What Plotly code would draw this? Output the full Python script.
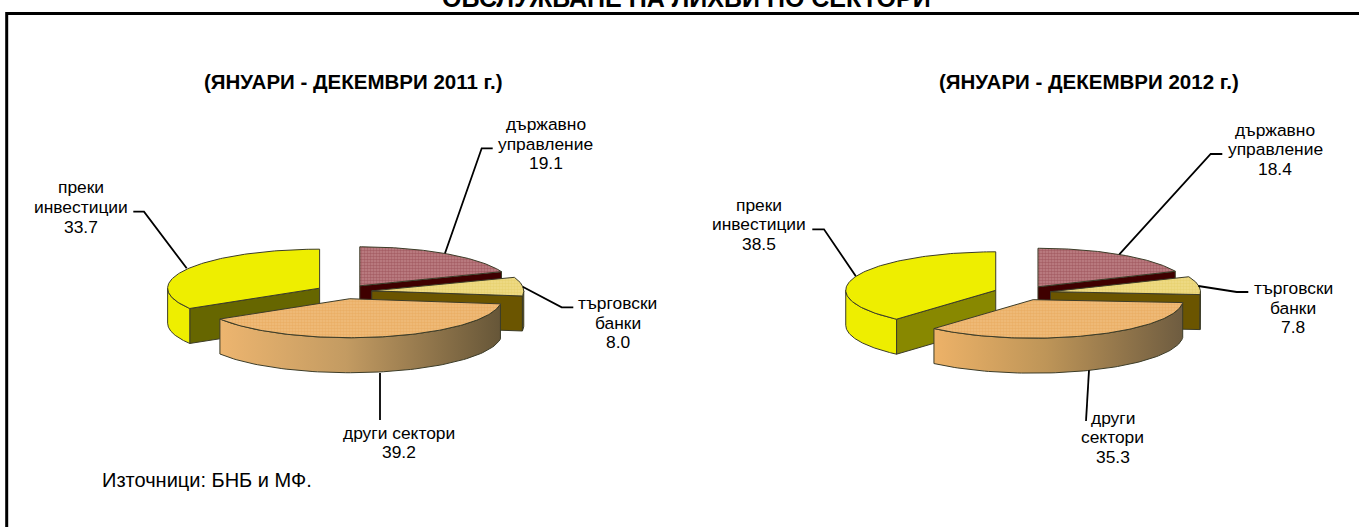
import numpy as np
import plotly.graph_objects as go

categories = ["държавно управление", "търговски банки", "други сектори", "преки инвестиции"]
values_2011 = [19.1, 8.0, 39.2, 33.7]
values_2012 = [18.4, 7.8, 35.3, 38.5]
title_main = "ОБСЛУЖВАНЕ НА ЛИХВИ ПО СЕКТОРИ"
title_2011 = "(ЯНУАРИ - ДЕКЕМВРИ 2011 г.)"
title_2012 = "(ЯНУАРИ - ДЕКЕМВРИ 2012 г.)"
source_note = "Източници: БНБ и МФ."

W, H = 1359, 527
FONT = "Liberation Sans"
DEPTH = 35
EDGE = "#3c3c28"
TOP = ["#B16C70", "#EDD87A", "#EFB76E", "#EEEE00"]
TOP_PATTERN = [
    dict(shape=".", size=3, solidity=0.6, fgcolor="#8A3A42", bgcolor="#C08488"),
    dict(shape=".", size=3, solidity=0.6, fgcolor="#E0C85C", bgcolor="#F0DC88"),
    dict(shape=".", size=3, solidity=0.6, fgcolor="#E3A050", bgcolor="#F0BE7C"),
    None,
]
YELLOW_WALL = "#EEEE00"

fig = go.Figure()


def poly(x, y, color=None, grad=None, pattern=None, lw=1):
    kw = dict(x=x, y=y, mode="lines", fill="toself", hoverinfo="skip", showlegend=False,
              line=dict(color=EDGE, width=lw))
    if grad is not None:
        kw["fillgradient"] = dict(type="horizontal", colorscale=grad)
        kw["fillcolor"] = grad[0][1]
    else:
        kw["fillcolor"] = color
    if pattern is not None:
        kw["fillpattern"] = pattern
    fig.add_trace(go.Scatter(**kw))


def pie3d(values, cx, cy, rx, ry, explode, cut_colors, wall_grad):
    edges = np.cumsum([0] + list(values)) / sum(values) * 2 * np.pi
    slices = []
    for i in range(len(values)):
        a0, a1 = edges[i], edges[i + 1]
        mid = (a0 + a1) / 2
        ox = cx + explode * rx * np.sin(mid)
        oy = cy - explode * ry * np.cos(mid)
        slices.append((i, a0, a1, ox, oy))

    def pt(ox, oy, a):
        return ox + rx * np.sin(a), oy - ry * np.cos(a)

    # paint order: back slices first, the front slice last
    for i in [0, 1, 3, 2]:
        _, a0, a1, ox, oy = slices[i]
        # straight cut faces that look towards the viewer
        for a, visible in ((a1, 0 < a1 < np.pi), (a0, np.pi < a0 < 2 * np.pi)):
            if visible:
                ex, ey = pt(ox, oy, a)
                poly([ox, ex, ex, ox, ox], [oy, ey, ey + DEPTH, oy + DEPTH, oy], cut_colors[i])
        # curved outer wall, the part that faces the viewer
        lo, hi = max(a0, np.pi / 2), min(a1, 3 * np.pi / 2)
        if hi > lo:
            t = np.linspace(lo, hi, 80)
            ax, ay = pt(ox, oy, t)
            x = np.r_[ax, ax[::-1], ax[0]]
            y = np.r_[ay, ay[::-1] + DEPTH, ay[0]]
            if i == 2:
                poly(x, y, grad=wall_grad)
            elif i == 3:
                poly(x, y, YELLOW_WALL)
            else:
                poly(x, y, cut_colors[i])
        # top surface
        t = np.linspace(a0, a1, 120)
        ax, ay = pt(ox, oy, t)
        poly(np.r_[ox, ax, ox], np.r_[oy, ay, oy], TOP[i], pattern=TOP_PATTERN[i])


pie3d(values_2011, 344, 291.7, 152, 39, 0.184,
      ["#3F0000", "#6B5500", "#6B5500", "#666600"],
      [[0, "#EDB56F"], [0.45, "#C39B62"], [1, "#665638"]])
pie3d(values_2012, 1022.4, 292.9, 150, 38.5, 0.19,
      ["#3F0000", "#6B5500", "#6B5500", "#888800"],
      [[0, "#EDB268"], [0.45, "#BE9558"], [1, "#6E5C40"]])

# leader lines (pixel positions of the decoration)
leaders = [
    [(445, 253.3), (481.7, 148.3), (492.7, 148.3)],
    [(522.7, 286.7), (561.7, 307.3), (573.3, 307.3)],
    [(186.7, 268.3), (144, 211.7), (133.3, 211.7)],
    [(380, 373), (380, 420)],
    [(1119.3, 254.3), (1210.7, 154), (1222.3, 154)],
    [(1198.3, 286), (1236.7, 292), (1248.3, 292)],
    [(855.7, 276), (824, 229.3), (812.3, 229.3)],
    [(1089, 370.3), (1086, 421)],
]
for pts in leaders:
    fig.add_trace(go.Scatter(x=[p[0] for p in pts], y=[p[1] for p in pts], mode="lines",
                             line=dict(color="#000000", width=1.8), hoverinfo="skip", showlegend=False))


def note(x, y, text, size=17.4, bold=False, yshift=0):
    t = f"<b>{text}</b>" if bold else text
    fig.add_annotation(x=x, y=y, xref="x", yref="y", text=t, showarrow=False, xanchor="center", yshift=yshift,
                       yanchor="middle", align="center", font=dict(family=FONT, size=size, color="#000000"))


def stack(x, y0, lines, step=19.7):
    for k, line in enumerate(lines):
        note(x, y0 + k * step, line)


def lab(i, v):
    return categories[i].split(" ") + [f"{v:.1f}"]


stack(545.7, 124, lab(0, values_2011[0]))
stack(617.7, 303, lab(1, values_2011[1]))
stack(80.7, 187.3, lab(3, values_2011[3]))
stack(399.3, 432.7, [categories[2], f"{values_2011[2]:.1f}"], step=19.5)
stack(1275, 129.5, lab(0, values_2012[0]))
stack(1293.3, 288, lab(1, values_2012[1]))
stack(758.7, 204.5, lab(3, values_2012[3]))
stack(1112.7, 417.5, lab(2, values_2012[2]))
note(207, 480, source_note, size=20)
note(686, 0, title_main, size=25, bold=True, yshift=2)
note(353.5, 81, title_2011, size=20.5, bold=True)
note(1089, 81, title_2012, size=20.5, bold=True)

# frame: only the top and left edges fall inside the picture
fig.add_shape(type="line", x0=6.7, x1=W + 5, y0=13.5, y1=13.5, xref="x", yref="y", line=dict(color="#000", width=3))
fig.add_shape(type="line", x0=6.7, x1=6.7, y0=12, y1=H + 5, xref="x", yref="y", line=dict(color="#000", width=3))

fig.update_layout(
    width=W, height=H, margin=dict(l=0, r=0, t=0, b=0), paper_bgcolor="#FFFFFF", plot_bgcolor="#FFFFFF",
    xaxis=dict(range=[0, W], visible=False, fixedrange=True),
    yaxis=dict(range=[H, 0], visible=False, fixedrange=True),
    showlegend=False,
)
fig.write_html("out.html", config={"displayModeBar": False},
               post_script="document.body.style.margin='0';document.body.style.overflow='hidden';")
